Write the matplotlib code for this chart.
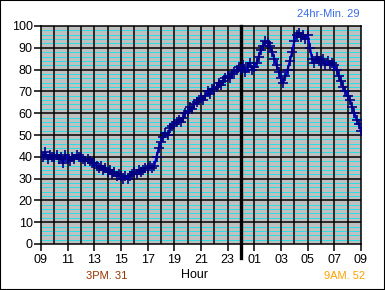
import numpy as np
import matplotlib
matplotlib.use('Agg')
import matplotlib.pyplot as plt
from matplotlib.patches import Rectangle

plt.rcParams['font.family'] = ['Liberation Sans', 'DejaVu Sans']

# readings every 10 minutes, 09:00 -> 09:00 next day
values = [
    41, 40, 42, 39, 41, 40,   # 09
    40, 41, 39, 40, 37, 41,   # 10
    39, 38, 40, 39, 41, 40,   # 11
    40, 39, 38, 39, 38, 37,   # 12
    37, 36, 35, 36, 34, 35,   # 13
    33, 34, 32, 33, 31, 32,   # 14
    31, 30, 31, 30, 31, 32,   # 15
    33, 32, 34, 33, 34, 35,   # 16
    35, 36, 35, 36, 40, 44,   # 17
    47, 49, 51, 50, 53, 54,   # 18
    55, 56, 57, 56, 58, 60,   # 19
    61, 63, 62, 64, 65, 66,   # 20
    67, 66, 68, 70, 69, 71,   # 21
    71, 72, 74, 73, 75, 76,   # 22
    77, 76, 78, 79, 80, 81,   # 23
    80, 82, 79, 81, 83, 80,   # 00
    81, 83, 86, 89, 91, 93,   # 01
    92, 91, 88, 85, 82, 79,   # 02
    76, 74, 77, 80, 84, 88,   # 03
    93, 96, 97, 95, 96, 94,   # 04
    96, 90, 85, 83, 86, 84,   # 05
    83, 85, 82, 84, 82, 83,   # 06
    82, 80, 77, 75, 72, 70,   # 07
    68, 66, 63, 60, 57, 55,   # 08
    52,                       # 09
]
hours = [9 + i / 6 for i in range(len(values))]

tick_hours = list(range(9, 34, 2))
tick_labels = ['09', '11', '13', '15', '17', '19', '21', '23',
               '01', '03', '05', '07', '09']
y_ticks = list(range(0, 101, 10))

fig = plt.figure(figsize=(3.85, 2.9), dpi=100)
fig.patches.append(Rectangle((0, 0), 1, 1, transform=fig.transFigure,
                             fill=False, edgecolor='black', linewidth=1.5))
ax = fig.add_axes([41/385, 1 - 244/290, 320/385, 218/290])
ax.set_facecolor('#c0c0c0')

# grid
for v in range(2, 100, 2):
    if v % 10:
        ax.axhline(v, color='#00e8f0', linewidth=0.55, zorder=1)
for v in y_ticks[1:-1]:
    ax.axhline(v, color='black', linewidth=1.1, zorder=2)
for h in range(10, 33):
    ax.axvline(h, color='black', linewidth=1.1, zorder=2)
ax.axvline(24, ymin=-0.065, ymax=1, color='black', linewidth=2.4,
           clip_on=False, zorder=3)

ax.plot(hours, values, color='#0000ff', linewidth=1.6, zorder=4)
ax.plot(hours, values, linestyle='none', marker='+', markersize=6.5,
        markeredgewidth=1.2, color='#000080', zorder=5)

ax.set_xlim(9, 33)
ax.set_ylim(0, 100)
ax.set_xticks(tick_hours)
ax.set_xticklabels(tick_labels)
ax.set_yticks(y_ticks)
ax.tick_params(axis='both', labelsize=9, length=5, width=1.1, colors='black')
ax.tick_params(axis='x', pad=2)
ax.tick_params(axis='y', pad=1)
for s in ax.spines.values():
    s.set_linewidth(1.1)

fig.text(195/385, 1 - 275/290, 'Hour', fontsize=9, ha='center', va='center')
fig.text(107/385, 1 - 276/290, '3PM. 31', fontsize=8, color='#993300',
         ha='center', va='center')
fig.text(345/385, 1 - 276/290, '9AM. 52', fontsize=8, color='#ffa000',
         ha='center', va='center')
fig.text(328/385, 1 - 14/290, '24hr-Min. 29', fontsize=8, color='#3a6ae8',
         ha='center', va='center')

fig.savefig('out.png', dpi=100)
